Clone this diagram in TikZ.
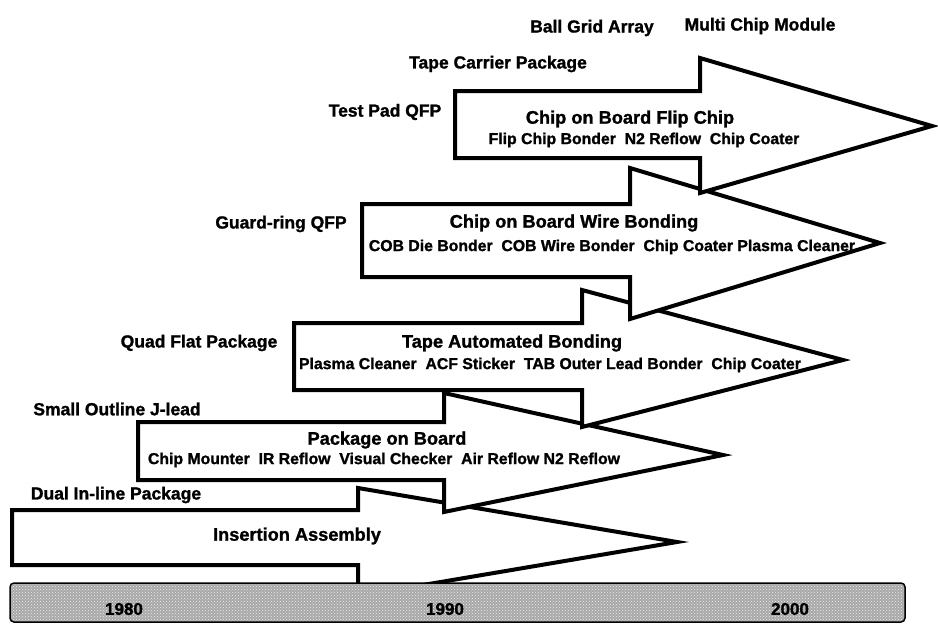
\documentclass[tikz,border=0pt]{standalone}
\usepackage{fontspec}
\setmainfont{Liberation Sans}[BoldFeatures={FakeBold=1.3}]
\usepackage{tikz}
\usetikzlibrary{positioning, patterns}
\definecolor{grisBarra}{HTML}{A8A8A8}
\colorlet{colTrazo}{black}
\tikzset{
  flechaBloque/.style={draw=colTrazo, fill=white, line width=4pt, line join=miter},
  barraTiempo/.style={draw=colTrazo, fill=grisBarra, line width=1.5pt, rounded corners=4pt},
  etiquetaPaquete/.style={font=\bfseries\fontsize{17.5}{20}\selectfont, inner sep=0pt},
  tituloProceso/.style={font=\bfseries\fontsize{18.2}{21}\selectfont, inner sep=0pt},
  listaEquipo/.style={font=\bfseries\fontsize{15.8}{18}\selectfont, inner sep=0pt},
  etiquetaAnio/.style={font=\bfseries\fontsize{17}{18}\selectfont, inner sep=0pt},
}
\begin{document}
\begin{tikzpicture}[x=1pt, y=-1pt]
    \useasboundingbox[fill=white] (0,0) rectangle (938,624);
    \draw[flechaBloque] (12,510) -- (358,510) -- (358,488) -- (677,542) -- (358,596) -- (358,565) -- (12,565) -- cycle;
    \draw[flechaBloque] (138,422) -- (444,422) -- (444,393) -- (723,455) -- (444,512) -- (444,480) -- (138,480) -- cycle;
    \draw[flechaBloque] (294,323) -- (582,323) -- (582,290) -- (843,360) -- (582,427) -- (582,390) -- (294,390) -- cycle;
    \draw[flechaBloque] (362,204) -- (630,204) -- (630,168) -- (880,243) -- (630,319) -- (630,277) -- (362,277) -- cycle;
    \draw[flechaBloque] (455,91) -- (700,91) -- (700,58) -- (932,126) -- (700,193) -- (700,158) -- (455,158) -- cycle;
    \draw[barraTiempo] (10,583) rectangle (905,622);
    \fill[pattern=crosshatch dots, pattern color=white!80!grisBarra, rounded corners=3pt] (11,584) rectangle (904,621);

    \node[etiquetaPaquete] (bga) at (592,28) {Ball Grid Array};
    \node[etiquetaPaquete] (mcm) at (760,26) {Multi Chip Module};
    \node[etiquetaPaquete] (tcp) at (498,64) {Tape Carrier Package};
    \node[etiquetaPaquete] (tpqfp) at (385,112) {Test Pad QFP};
    \node[etiquetaPaquete] (grqfp) at (281,224) {Guard-ring QFP};
    \node[etiquetaPaquete] (qfp) at (199,343) {Quad Flat Package};
    \node[etiquetaPaquete] (soj) at (117,409) {Small Outline J-lead};
    \node[etiquetaPaquete] (dip) at (116,495) {Dual In-line Package};

    \node[tituloProceso] (flip) at (630,119) {Chip on Board Flip Chip};
    \node[listaEquipo] (eqFlip) at (644,140) {Flip Chip Bonder\ \ N2 Reflow\ \ Chip Coater};
    \node[tituloProceso] (wire) at (574,223) {Chip on Board Wire Bonding};
    \node[listaEquipo] (eqWire) at (612,247) {COB Die Bonder\ \ COB Wire Bonder\ \ Chip Coater Plasma Cleaner};
    \node[tituloProceso] (tab) at (512,343) {Tape Automated Bonding};
    \node[listaEquipo] (eqTab) at (550,365) {Plasma Cleaner\ \ ACF Sticker\ \ TAB Outer Lead Bonder\ \ Chip Coater};
    \node[tituloProceso] (pob) at (387,440) {Package on Board};
    \node[listaEquipo] (eqPob) at (384,460) {Chip Mounter\ \ IR Reflow\ \ Visual Checker\ \ Air Reflow N2 Reflow};
    \node[tituloProceso] (ins) at (297,536) {Insertion Assembly};

    \node[etiquetaAnio] (a1980) at (124,609) {1980};
    \node[etiquetaAnio] (a1990) at (445,609) {1990};
    \node[etiquetaAnio] (a2000) at (790,609) {2000};
  \end{tikzpicture}
\end{document}
